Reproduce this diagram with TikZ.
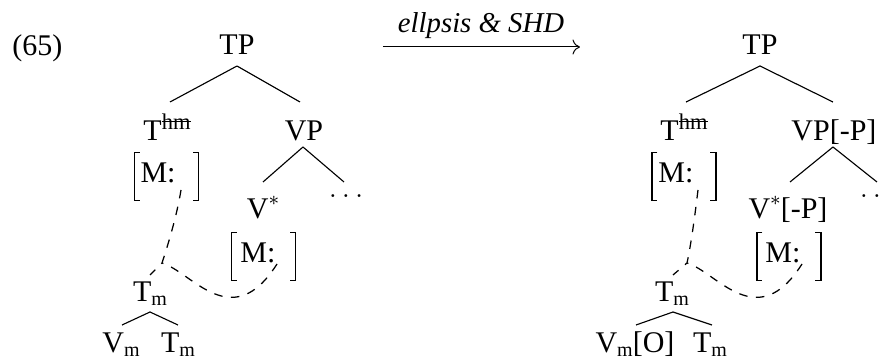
\documentclass[tikz,border=0pt]{standalone}
\usepackage{fontspec}
\setmainfont{Liberation Serif}
\usetikzlibrary{arrows.meta,calc}
\newsavebox\strkbox
\newcommand\strikeit[1]{\sbox\strkbox{#1}\rlap{\usebox\strkbox}\rule[3pt]{\wd\strkbox}{0.45pt}}
\newcommand\Thm{T\raisebox{4.4pt}{\fontsize{9}{9}\selectfont\strikeit{hm}}}
\newcommand\subm{\raisebox{-1.6pt}{\fontsize{8}{8}\selectfont m}}
\newcommand\vstar{V\raisebox{5.2pt}{\fontsize{8.5}{8.5}\selectfont$\ast$}}
\newcommand\avmbr[1]{%
  \draw[brk] ([xshift=2.2pt]#1.north west) -- (#1.north west) -- (#1.south west) -- ([xshift=2.2pt]#1.south west);
  \draw[brk] ([xshift=-2.2pt]#1.north east) -- (#1.north east) -- (#1.south east) -- ([xshift=-2.2pt]#1.south east);}
\tikzset{
  lbl/.style={inner sep=0pt, anchor=base, font=\fontsize{12}{14}\selectfont},
  mtxt/.style={inner sep=0pt, anchor=base west, font=\fontsize{12}{14}\selectfont},
  edge/.style={line width=0.45pt},
  dsh/.style={line width=0.5pt, dash pattern=on 3.4pt off 3.4pt},
  brk/.style={line width=0.5pt},
  avmbox/.style={inner sep=0pt, minimum width=25.2pt, minimum height=18.8pt},
}
\begin{document}
\begin{tikzpicture}[x=0.4pt,y=-0.4pt]
\useasboundingbox (0,0) rectangle (883,359);
% example number
\node[mtxt] (ex) at (12,56) {(65)};
% arrow
\coordinate (a1) at (383,47);
\coordinate (a2) at (580,47);
\draw[line width=0.4pt,-{Computer Modern Rightarrow[length=3pt,width=6pt]}] (a1) -- (a2);
\node[lbl,font=\fontsize{11.5}{13}\selectfont\itshape] (lab) at (481,33) {ellpsis \& SHD};

% ===== left tree =====
\node[lbl] (tp1) at (237,55) {TP};
\node[lbl] (thm1) at (167,141) {\Thm};
\node[lbl] (vp1) at (304,141) {VP};
\node[avmbox] (m1) at (166.5,176.5) {};
\node[mtxt] (m1t) at (140,183) {M:};
\node[lbl] (vs1) at (263,219) {\vstar};
\node[lbl] (dots1) at (346,198) {$\ldots$};
\node[avmbox] (m2) at (263.5,256.5) {};
\node[mtxt] (m2t) at (240,263) {M:};
\node[lbl] (tm1) at (150,302) {T\subm};
\node[lbl] (vm1) at (121,353) {V\subm};
\node[lbl] (tm1b) at (178,353) {T\subm};
\avmbr{m1}
\avmbr{m2}
\draw[edge] ($(tp1.base)+(0,11)$) -- ($(thm1.base)+(3,-39)$);
\draw[edge] ($(tp1.base)+(0,11)$) -- ($(vp1.base)+(-4,-39)$);
\draw[edge] ($(vp1.base)+(-1,6)$) -- ($(vs1.base)+(0,-37)$);
\draw[edge] ($(vp1.base)+(-1,6)$) -- ($(dots1.base)+(-2,-16)$);
\draw[edge] ($(tm1.base)+(0,10)$) -- ($(vm1.base)+(1,-28)$);
\draw[edge] ($(tm1.base)+(0,10)$) -- ($(tm1b.base)+(0,-28)$);
\coordinate (d1) at (181,190);
\coordinate (j1) at (162,263);
\coordinate (e1) at ($(tm1.base)+(0,-27)$);
\coordinate (d2) at (277,264);
\draw[dsh] (d1) .. controls (177,215) and (168,245) .. (j1) -- (e1);
\draw[dsh] (d2) .. controls (232,335) and (192,272) .. (j1);

% ===== right tree =====
\node[lbl] (tp2) at (760,55) {TP};
\node[lbl] (thm2) at (684,141) {\Thm};
\node[lbl] (vp2) at (834,141) {VP[-P]};
\node[avmbox] (m3) at (684,176.5) {};
\node[mtxt] (m3t) at (658,183) {M:};
\node[lbl] (vs2) at (788,219) {\vstar[-P]};
\node[lbl] (dots2) at (877,198) {$\ldots$};
\node[avmbox] (m4) at (789,256.5) {};
\node[mtxt] (m4t) at (765,263) {M:};
\node[lbl] (tm2) at (672,302) {T\subm};
\node[lbl] (vm2) at (635,353) {V\subm[O]};
\node[lbl] (tm2b) at (710,353) {T\subm};
\avmbr{m3}
\avmbr{m4}
\draw[edge] ($(tp2.base)+(0,11)$) -- ($(thm2.base)+(2,-39)$);
\draw[edge] ($(tp2.base)+(0,11)$) -- ($(vp2.base)+(-1,-39)$);
\draw[edge] ($(vp2.base)+(-1,6)$) -- ($(vs2.base)+(2,-37)$);
\draw[edge] ($(vp2.base)+(-1,6)$) -- ($(dots2.base)+(0,-16)$);
\draw[edge] ($(tm2.base)+(1,10)$) -- ($(vm2.base)+(1,-28)$);
\draw[edge] ($(tm2.base)+(1,10)$) -- ($(tm2b.base)+(2,-28)$);
\coordinate (d3) at (698,190);
\coordinate (j2) at (687,263);
\coordinate (e2) at ($(tm2.base)+(1,-27)$);
\coordinate (d4) at (802,264);
\draw[dsh] (d3) .. controls (695,215) and (691,245) .. (j2) -- (e2);
\draw[dsh] (d4) .. controls (757,335) and (717,272) .. (j2);
\end{tikzpicture}
\end{document}
